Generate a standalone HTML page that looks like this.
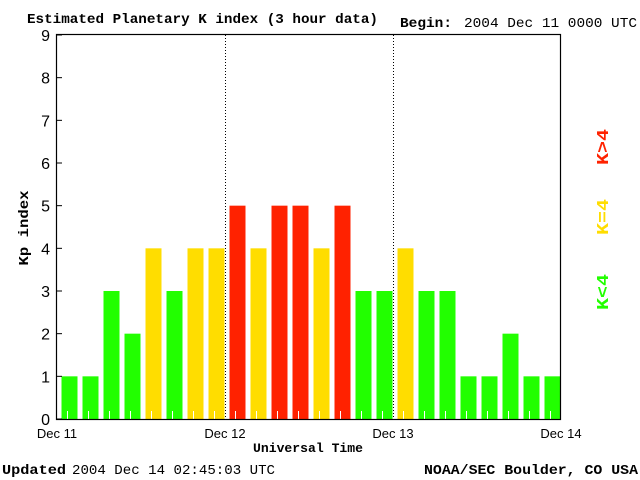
<!DOCTYPE html>
<html><head><meta charset="utf-8"><style>
html,body{margin:0;padding:0;background:#fff;}
svg{display:block;}
.serif{font-family:"Liberation Mono",monospace;font-weight:bold;}
.mono{font-family:"Liberation Mono",monospace;}
.sans{font-family:"Liberation Sans",sans-serif;}
</style></head><body>
<svg id="chart" width="640" height="480" viewBox="0 0 640 480">
<text x="27" y="23" class="serif" font-size="14" textLength="351" lengthAdjust="spacingAndGlyphs">Estimated Planetary K index (3 hour data)</text>
<text x="400" y="27" class="serif" font-size="14" textLength="52" lengthAdjust="spacingAndGlyphs">Begin:</text>
<text x="464" y="27" class="mono" font-size="14" textLength="173" lengthAdjust="spacingAndGlyphs">2004 Dec 11 0000 UTC</text>
<text x="28" y="228" class="serif" font-size="14" textLength="75" lengthAdjust="spacingAndGlyphs" transform="rotate(-90 28 228)" text-anchor="middle">Kp index</text>
<text x="308" y="452" class="serif" font-size="13" textLength="110" lengthAdjust="spacingAndGlyphs" text-anchor="middle">Universal Time</text>
<text x="2" y="474" class="serif" font-size="14" textLength="64" lengthAdjust="spacingAndGlyphs">Updated</text>
<text x="72" y="474" class="mono" font-size="14" textLength="203" lengthAdjust="spacingAndGlyphs">2004 Dec 14 02:45:03 UTC</text>
<text x="424" y="474" class="serif" font-size="14" textLength="214" lengthAdjust="spacingAndGlyphs">NOAA/SEC Boulder, CO USA</text>
<text x="608" y="147" class="serif" font-size="17" fill="#ff2200" textLength="36" lengthAdjust="spacingAndGlyphs" transform="rotate(-90 608 147)" text-anchor="middle">K&gt;4</text>
<text x="608" y="217" class="serif" font-size="17" fill="#ffdd00" textLength="36" lengthAdjust="spacingAndGlyphs" transform="rotate(-90 608 217)" text-anchor="middle">K=4</text>
<text x="608" y="292" class="serif" font-size="17" fill="#22ff00" textLength="36" lengthAdjust="spacingAndGlyphs" transform="rotate(-90 608 292)" text-anchor="middle">K&lt;4</text>
<g id="plot"></g>
</svg>
<script>
const kpValues = [1,1,3,2,4,3,4,4, 5,4,5,5,4,5,3,3, 4,3,3,1,1,2,1,1];
const yTicks = [0,1,2,3,4,5,6,7,8,9];
const dayLabels = ["Dec 11","Dec 12","Dec 13","Dec 14"];
const X0=57, X1=561, Y0=419, Y9=35;
const slot=(X1-X0)/kpValues.length;
const yS=v=>Y0-(Y0-Y9)*v/9;
const xS=i=>X0+i*slot;
const NS="http://www.w3.org/2000/svg";
const g=document.getElementById('plot');
function mk(t,a){const e=document.createElementNS(NS,t);for(const k in a)e.setAttribute(k,a[k]);g.appendChild(e);return e;}
kpValues.forEach((v,i)=>{
  const c=v>4?"#ff2200":(v==4?"#ffdd00":"#22ff00");
  const r=mk('rect',{x:xS(i)+4.5,y:yS(v),width:16,height:Y0-yS(v),fill:c});
  
  
  const t=mk('line',{x1:xS(i)+slot/2,x2:xS(i)+slot/2,y1:Y0-8,y2:Y0,stroke:"#fff","stroke-width":1});
  
  
});
for(let d=1;d<dayLabels.length-1;d++){
  const x=xS(d*8)+0.5;
  const l=mk('line',{x1:x,x2:x,y1:Y9,y2:Y0,stroke:"#000","stroke-dasharray":"1,2"});
  
  
}
const ax=mk('rect',{x:X0-0.5,y:Y9-0.5,width:X1-X0,height:Y0-Y9+1,fill:"none",stroke:"#000","stroke-width":1.2});


yTicks.forEach(v=>{
  const y=yS(v);
  const tk=mk('line',{x1:X0,x2:X0+5,y1:y,y2:y,stroke:"#000"});
  
  
  const t=mk('text',{x:X0-7,y:y+6,"text-anchor":"end","font-size":"16","class":"sans"});
  t.textContent=v;
  
  
});
dayLabels.forEach((s,d)=>{
  const t=mk('text',{x:xS(d*8),y:438,"text-anchor":"middle","font-size":"13","class":"sans"});
  t.textContent=s;
  
  
});
</script>
</body></html>
